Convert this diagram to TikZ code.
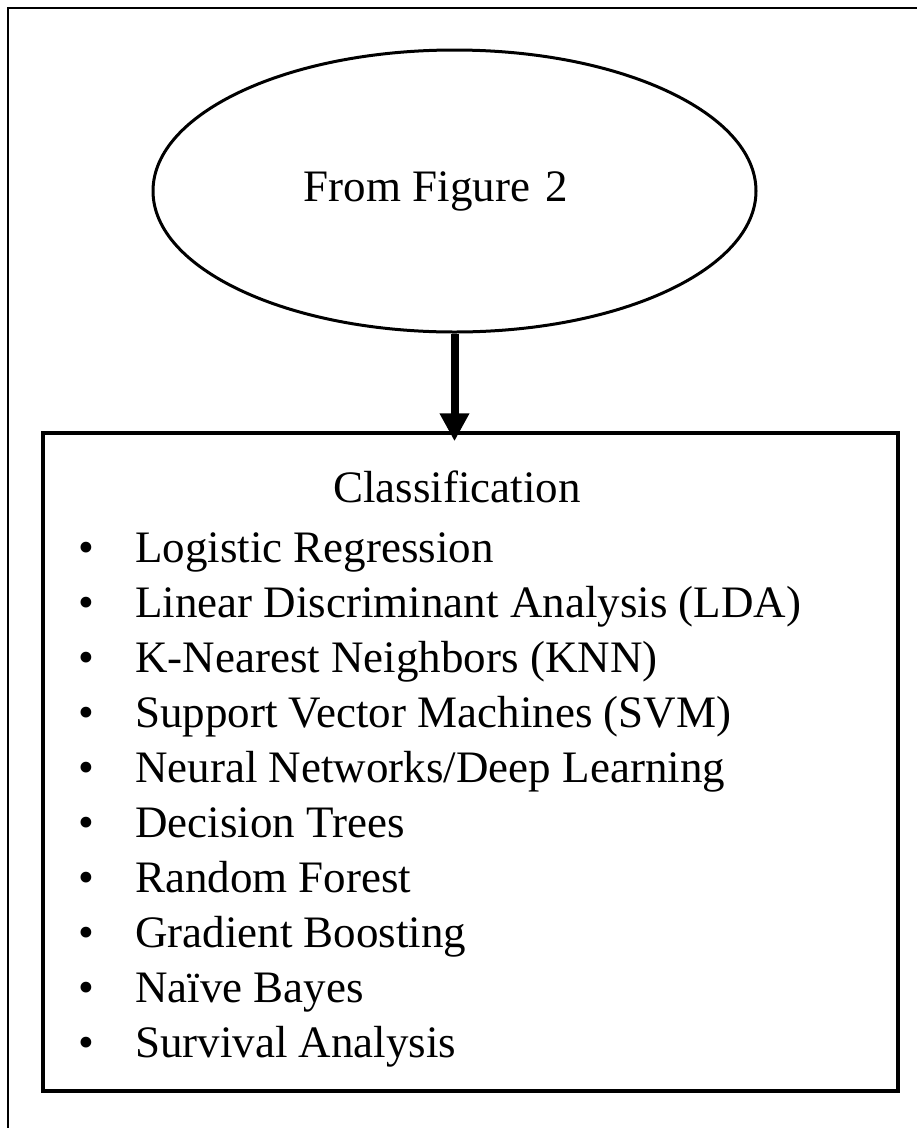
\documentclass[tikz,border=0pt]{standalone}
\usepackage{fontspec}
\setmainfont{Liberation Serif}
\usetikzlibrary{arrows.meta,shapes.geometric}

\begin{document}
\begin{tikzpicture}[x = 1pt, y = -1pt, every node/.style = {inner sep = 0pt, font = \fontsize{45}{55}\selectfont},
    frameline/.style = {draw = black, line width = 3pt},
    entry/.style = {anchor = base west},
    dotmark/.style = {anchor = base}]

	\useasboundingbox (0, 0) rectangle (917, 1128);

	\draw [frameline, line width = 2.5pt] (8, 1128) -- (8, 8) -- (917, 8);

	\node (SRC) at (454.5, 191) [ellipse, frameline, minimum width = 603pt, minimum height = 282pt] {};
	\node (SRCtxt) at (436, 191) {From Figure\hspace{0.35em}2};
	\node (CLS) at (470.5, 762) [rectangle, frameline, line width = 3.5pt, minimum width = 855pt, minimum height = 658pt] {};
	\node (CLStitle) at (333, 502) [entry] {Classification};

    \foreach \txt [count = \i] in {{Logistic Regression}, {Linear Discriminant Analysis (LDA)},
    {K-Nearest Neighbors (KNN)}, {Support Vector Machines (SVM)}, {Neural Networks/Deep Learning},
    {Decision Trees}, {Random Forest}, {Gradient Boosting}, {Na\"ive Bayes}, {Survival Analysis}}
    {
    	\node (bul\i) at (86, {562+55.1*(\i-1)}) [dotmark] {\textbullet};
    	\node (item\i) at (135, {562+55.1*(\i-1)}) [entry] {\txt};
    }

    \draw [line width = 8pt, -{Triangle[width = 28pt, length = 28pt]}, shorten > = -10pt] (SRC.south) -- (SRC.south |- CLS.north);

\end{tikzpicture}
\end{document}
